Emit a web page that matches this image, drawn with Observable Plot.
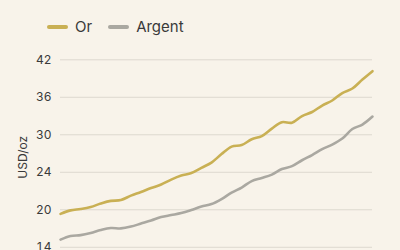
<!DOCTYPE html>
<html>
<head>
<meta charset="utf-8">
<script src="https://cdn.jsdelivr.net/npm/d3@7"></script>
<script src="https://cdn.jsdelivr.net/npm/@observablehq/plot@0.6"></script>
<style>
  html, body { margin: 0; padding: 0; background: #f8f3ea; width: 400px; height: 250px; overflow: hidden; }
  body { font-family: Inter, "Noto Sans", sans-serif; color: #3a3a3a; }
  .legend { display: flex; align-items: center; height: 52px; padding-left: 47px; padding-top: 1px; font-size: 15px; box-sizing: border-box; }
  .legend .item { display: flex; align-items: center; margin-right: 16px; }
  .legend .sw { width: 21px; height: 4px; border-radius: 2px; margin-right: 7px; }
</style>
</head>
<body>
<div class="legend" id="legend"></div>
<div id="chart"></div>
<script>
const seriesNames = ["Or", "Argent"];
const seriesColors = ["#c9b054", "#aaa8a1"];
const periods = d3.range(1, 33);
const orValues = [18.99, 19.51, 19.71, 20.01, 20.53, 20.93, 21.05, 21.72, 22.25, 22.84, 23.37, 24.11, 24.71, 25.09, 25.86, 26.65, 27.92, 29.04, 29.27, 30.13, 30.61, 31.73, 32.68, 32.6, 33.6, 34.2, 35.17, 35.92, 37.04, 37.71, 39.05, 40.3];
const argentValues = [15.15, 15.7, 15.81, 16.12, 16.57, 16.87, 16.82, 17.09, 17.54, 17.99, 18.51, 18.81, 19.11, 19.56, 20.08, 20.45, 21.2, 22.17, 22.92, 23.89, 24.34, 24.86, 25.68, 26.12, 27.0, 27.78, 28.67, 29.34, 30.24, 31.66, 32.33, 33.53];
const yTickLabels = ["14", "20", "24", "30", "36", "42"];
const yLabel = "USD/oz";
const yDomain = [6.5, 42];

const legend = document.getElementById("legend");
seriesNames.forEach((n, i) => {
  const it = document.createElement("div");
  it.className = "item";
  it.innerHTML = `<span class="sw" style="background:${seriesColors[i]}"></span><span>${n}</span>`;
  legend.appendChild(it);
});

const rows = [];
periods.forEach((p, i) => {
  rows.push({period: p, value: orValues[i], series: seriesNames[0]});
  rows.push({period: p, value: argentValues[i], series: seriesNames[1]});
});

const lo = +yTickLabels[0], hi = +yTickLabels[yTickLabels.length - 1];
const step = (hi - lo) / (yTickLabels.length - 1);
const tickVals = yTickLabels.map((_, k) => lo + k * step);

const chart = Plot.plot({
  width: 400,
  height: 260,
  marginTop: 7.3,
  marginLeft: 60,
  marginRight: 28,
  marginBottom: 15,
  style: { background: "transparent", fontFamily: "Inter, 'Noto Sans', sans-serif", fontSize: "12px", color: "#3a3a3a" },
  x: { axis: null, domain: [periods[0], periods[periods.length - 1]] },
  y: { domain: yDomain, axis: null },
  color: { domain: seriesNames, range: seriesColors },
  marks: [
    Plot.gridY(tickVals, { stroke: "#ddd8cf", strokeOpacity: 1, strokeWidth: 1 }),
    Plot.axisY(tickVals, { tickSize: 0, tickPadding: 9, tickFormat: (d, i) => yTickLabels[i], label: null, fill: "#3a3a3a", fontSize: 12 }),
    Plot.text([yLabel], { text: d => d, frameAnchor: "left", rotate: -90, dx: -37, fontSize: 12, fill: "#3a3a3a" }),
    Plot.line(rows, { x: "period", y: "value", z: "series", stroke: "series", strokeWidth: 2.6, curve: "catmull-rom" })
  ]
});
document.getElementById("chart").appendChild(chart);
</script>
</body>
</html>
